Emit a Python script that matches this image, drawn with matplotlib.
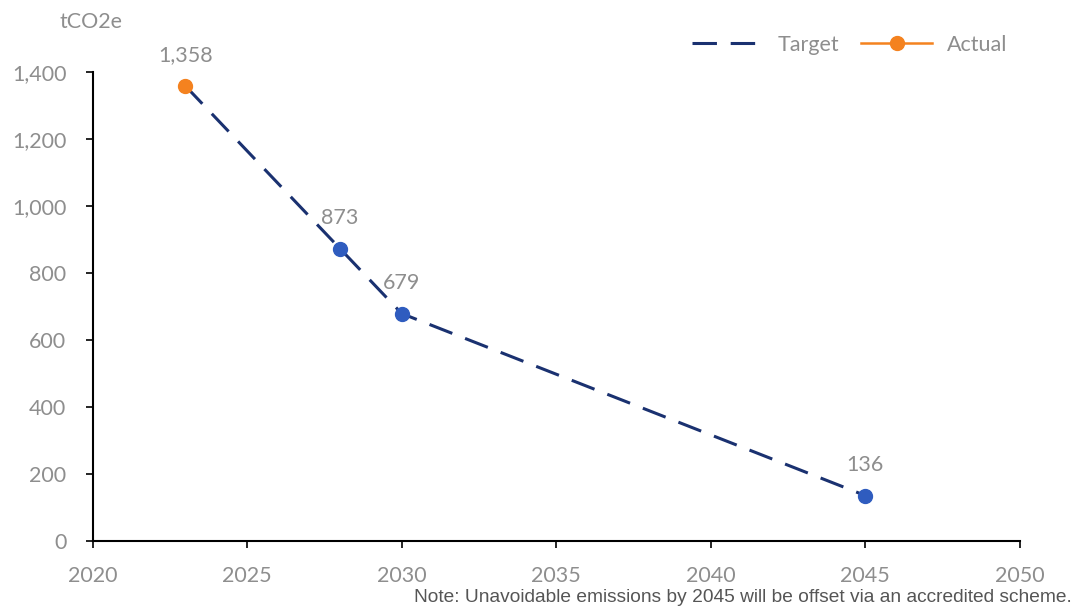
import matplotlib.pyplot as plt

years_target = [2023, 2028, 2030, 2045]
target = [1358, 873, 679, 136]
years_actual = [2023]
actual = [1358]
label_years = [2023, 2028, 2030, 2045]
label_values = [1358, 873, 679, 136]
yticks = [0, 200, 400, 600, 800, 1000, 1200, 1400]
xticks = [2020, 2025, 2030, 2035, 2040, 2045, 2050]

grey = "#8e8e8e"
plt.rcParams['font.family'] = ['Lato', 'DejaVu Sans']

fig = plt.figure(figsize=(10.79, 6.1), dpi=100)
ax = fig.add_axes([0.086, 0.113, 0.859, 0.769])

ax.plot(years_target, target, color="#1a3170", linestyle=(0, (8, 4.5)), lw=2.2, label="Target")
ax.plot(years_target[1:], target[1:], "o", color="#2f5cbf", ms=10, zorder=3)
ax.plot(years_actual, actual, color="#f4821f", marker="o", ms=10, lw=1.8, label="Actual", zorder=4)

# value labels above the points
for x, y in zip(label_years, label_values):
    ax.annotate(f"{y:,}", (x, y), xytext=(0, 22), textcoords="offset points",
                ha="center", va="center", color=grey, fontsize=15.5)

ax.set_xlim(2020, 2050)
ax.set_ylim(0, 1400)
ax.set_xticks(xticks)
ax.set_yticks(yticks)
ax.set_yticklabels([f"{v:,}" for v in yticks])
ax.tick_params(colors="black", labelcolor=grey, labelsize=15.5, length=5, width=1.2)
ax.tick_params(axis="x", pad=13)
ax.tick_params(axis="y", pad=14)
for s in ["top", "right"]:
    ax.spines[s].set_visible(False)
for s in ["left", "bottom"]:
    ax.spines[s].set_linewidth(1.5)

fig.text(60 / 1079, 1 - 22 / 610, "tCO2e", color=grey, fontsize=15.5, ha="left", va="center")
leg = ax.legend(loc="center right", bbox_to_anchor=(1027 / 1079, 1 - 45 / 610),
                bbox_transform=fig.transFigure, ncol=2, frameon=False, fontsize=15.5,
                handlelength=3.3, columnspacing=1.0, handletextpad=0.7)
for t in leg.get_texts():
    t.set_color(grey)

fig.text(1072 / 1079, 1 - 598 / 610, "Note: Unavoidable emissions by 2045 will be offset via an accredited scheme.",
         ha="right", va="center", fontsize=13.8, color="#555555",
         family=["Liberation Sans Narrow", "Liberation Sans", "DejaVu Sans"])

fig.savefig("out.png", dpi=100)
